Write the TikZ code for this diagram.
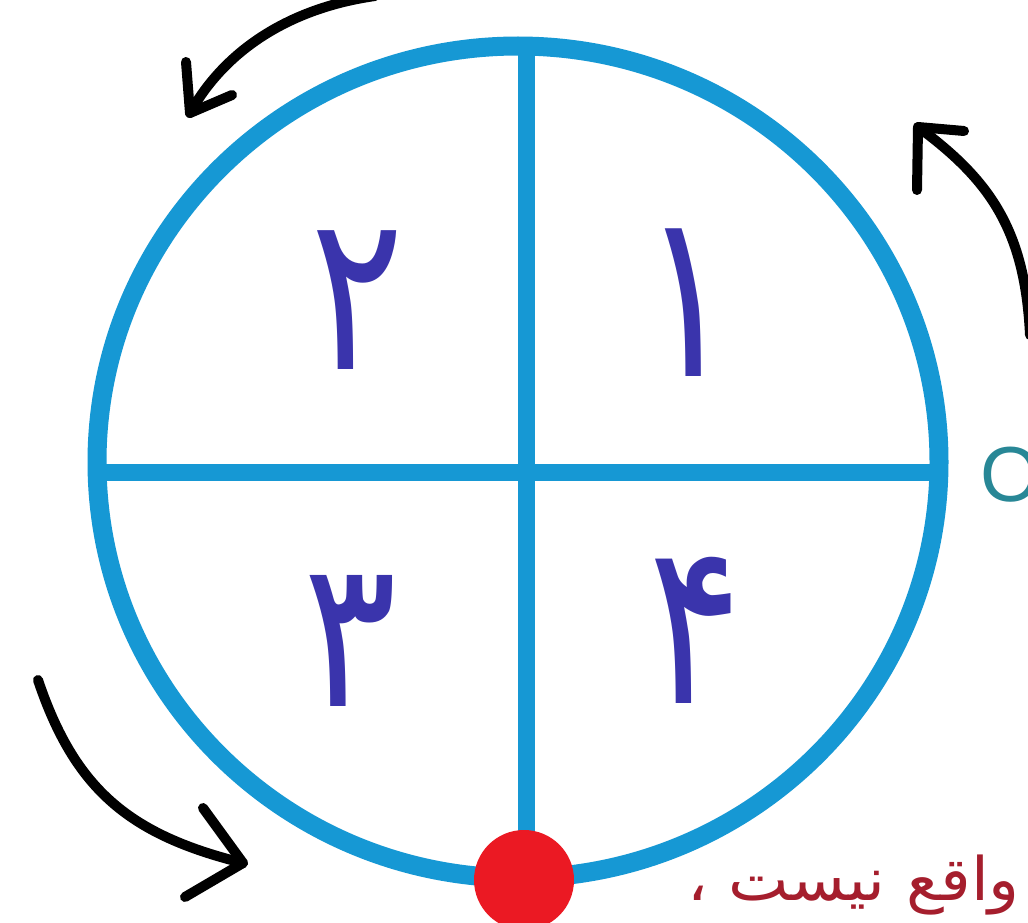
\documentclass[tikz,border=0pt]{standalone}
\usepackage{fontspec}
\setmainfont{Liberation Sans}
\newfontfamily\arabicfont[Script=Arabic]{DejaVu Sans}
\TeXXeTstate=1
\definecolor{ringblue}{RGB}{22,152,212}
\definecolor{digitblue}{RGB}{58,52,172}
\definecolor{otext}{RGB}{40,135,150}
\definecolor{redtext}{RGB}{165,30,45}
\definecolor{dotred}{RGB}{235,25,35}
\begin{document}
\begin{tikzpicture}[x=1pt,y=-1pt,
  ring/.style={draw=ringblue,line width=19pt},
  crossline/.style={draw=ringblue,line width=17pt},
  digit/.style={text=digitblue,font=\arabicfont\fontsize{175}{175}\selectfont,inner sep=0pt},
  handarrow/.style={draw=black,line width=10pt,line cap=round,line join=round}]
\useasboundingbox (0,0) rectangle (1028,923);
\clip (0,0) rectangle (1028,923);
\fill[white] (0,0) rectangle (1028,923);
\coordinate (C) at (518,462);
\draw[ring] (C) ellipse [x radius=421pt, y radius=416pt];
\coordinate (L) at (97,472);
\coordinate (R) at (940,472);
\coordinate (T) at (526,46);
\coordinate (B) at (526,870);
\draw[crossline] (L) -- (R);
\draw[crossline] (T) -- (B);
\node[circle,fill=dotred,minimum size=100pt,inner sep=0pt] (dot) at (524,880) {};
\node[digit] (d1) at (688,303) {\scalebox{1}[1.33]{۱}};
\node[digit] (d2) at (357,300) {\scalebox{1}[1.25]{۲}};
\node[digit] (d3) at (350,641) {\scalebox{1}[1.18]{۳}};
\node[digit] (d4) at (695,630) {\scalebox{1}[1.3]{۴}};
\node[font=\fontsize{78}{78}\selectfont,text=otext,anchor=west,inner sep=0pt] (o) at (980,475) {O};
\node[font=\arabicfont\fontsize{60}{60}\selectfont,text=redtext,anchor=base west,inner sep=0pt] (txt) at (687,900) {\scalebox{1.07}[1]{\beginR واقع نیست ،\endR}};
% arrows
\coordinate (s1) at (375,-4);
\coordinate (t1) at (190,113);
\coordinate (a1) at (186,62);
\coordinate (b1) at (232,95);
\draw[handarrow] (s1) .. controls (290,8) and (225,50) .. (t1);
\draw[handarrow] (a1) -- (t1) -- (b1);
\coordinate (s2) at (1030,335);
\coordinate (t2) at (918,127);
\coordinate (a2) at (917,190);
\coordinate (b2) at (964,131);
\draw[handarrow] (s2) .. controls (1025,230) and (990,180) .. (t2);
\draw[handarrow] (a2) -- (t2) -- (b2);
\coordinate (s3) at (38,680);
\coordinate (t3) at (243,863);
\coordinate (a3) at (203,808);
\coordinate (b3) at (185,897);
\draw[handarrow] (s3) .. controls (75,790) and (130,835) .. (t3);
\draw[handarrow] (a3) -- (t3) -- (b3);
\end{tikzpicture}
\end{document}
